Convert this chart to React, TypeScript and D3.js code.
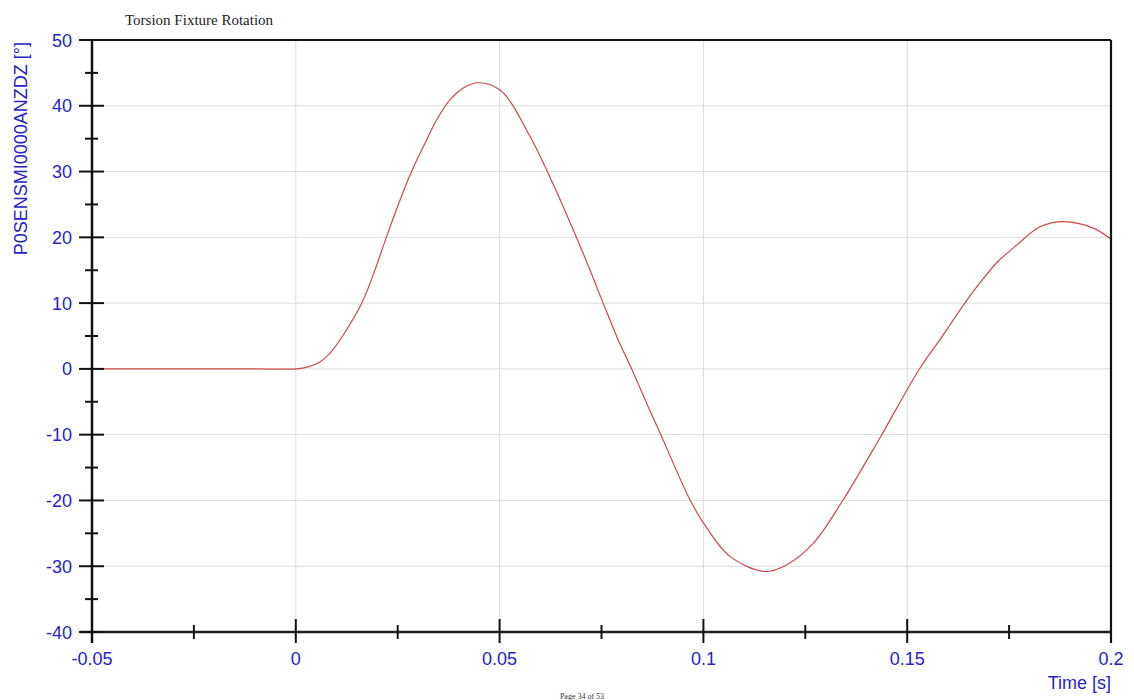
import React from "react";
import * as d3 from "d3";

const timeS = [-0.05, -0.03, -0.01, 0, 0.003, 0.006, 0.0084, 0.012, 0.0162, 0.0194, 0.0221, 0.0256, 0.0284, 0.0317, 0.0345, 0.0378, 0.0411, 0.0444, 0.0501, 0.0575, 0.0632, 0.0685, 0.0722, 0.0754, 0.0791, 0.0824, 0.0857, 0.0894, 0.0967, 0.1, 0.1065, 0.1151, 0.1204, 0.127, 0.1343, 0.1433, 0.1531, 0.158, 0.1638, 0.1675, 0.1719, 0.1768, 0.1826, 0.1883, 0.1957, 0.2];
const rotationDeg = [0, 0, 0, 0, 0.3, 1.1, 2.4, 5.5, 10, 15, 19.8, 25.7, 30, 34.3, 37.8, 40.9, 42.7, 43.5, 42.4, 35.3, 28.0, 20.5, 15, 10, 4.4, 0, -4.7, -9.8, -19.9, -23.4, -28.5, -30.8, -29.8, -26.5, -19.9, -10.5, 0.1, 4.4, 9.7, 12.8, 16.1, 18.8, 21.6, 22.4, 21.4, 19.7];
const xTicks = [-0.05, 0, 0.05, 0.1, 0.15, 0.2];
const xTickLabels = ["-0.05", "0", "0.05", "0.1", "0.15", "0.2"];
const xMinorTicks = [-0.025, 0.025, 0.075, 0.125, 0.175];
const yTicks = [50, 40, 30, 20, 10, 0, -10, -20, -30, -40];
const yMinorTicks = [45, 35, 25, 15, 5, -5, -15, -25, -35];

const W = 1134, H = 700;
const L = 92, R = 1111, T = 40, B = 632;
const blue = "#2424c8";
const sans = "Liberation Sans, Arial, sans-serif";

export default function App() {
  const x = d3.scaleLinear().domain([-0.05, 0.2]).range([L, R]);
  const y = d3.scaleLinear().domain([-40, 50]).range([B, T]);
  const pts = timeS.map((t, i) => [t, rotationDeg[i]] as [number, number]);
  const line = d3.line<[number, number]>().x(d => x(d[0])).y(d => y(d[1])).curve(d3.curveCatmullRom.alpha(0.5));

  return (
    <svg width={W} height={H} style={{ position: "absolute", left: 0, top: 0, background: "#fff" }}>
      <rect width={W} height={H} fill="#fff" />
      <text x={125} y={25} fontFamily="Liberation Serif, Times New Roman, serif" fontSize={15} fill="#222">Torsion Fixture Rotation</text>
      {/* grid */}
      {xTicks.map(t => <line key={"gx" + t} x1={x(t)} x2={x(t)} y1={T} y2={B} stroke="#dcdcdc" strokeWidth={1} />)}
      {yTicks.map(v => <line key={"gy" + v} x1={L} x2={R} y1={y(v)} y2={y(v)} stroke="#dcdcdc" strokeWidth={1} />)}
      {/* curve */}
      <path d={line(pts) || ""} fill="none" stroke="#d04848" strokeWidth={1.2} />
      {/* frame */}
      <line x1={L} x2={R} y1={T} y2={T} stroke="#111" strokeWidth={2} />
      <line x1={R} x2={R} y1={T} y2={B + 11} stroke="#111" strokeWidth={2.2} />
      <line x1={L} x2={L} y1={T} y2={B + 11} stroke="#111" strokeWidth={2.5} />
      <line x1={L - 12} x2={R} y1={B} y2={B} stroke="#222" strokeWidth={2.5} />
      {/* y ticks */}
      {yTicks.map(v => <line key={"ty" + v} x1={L - 13} x2={L + 12} y1={y(v)} y2={y(v)} stroke="#111" strokeWidth={2} />)}
      {yMinorTicks.map(v => <line key={"tym" + v} x1={L - 7} x2={L + 6} y1={y(v)} y2={y(v)} stroke="#111" strokeWidth={2} />)}
      {/* x ticks */}
      {xTicks.map(t => <line key={"tx" + t} x1={x(t)} x2={x(t)} y1={B - 13} y2={B + 11} stroke="#111" strokeWidth={2} />)}
      {xMinorTicks.map(t => <line key={"txm" + t} x1={x(t)} x2={x(t)} y1={B - 7} y2={B + 7} stroke="#111" strokeWidth={2} />)}
      {/* labels */}
      {yTicks.map(v => (
        <text key={"ly" + v} x={72} y={y(v) + 6.5} textAnchor="end" fontFamily={sans} fontSize={18} fill={blue}>{String(v)}</text>
      ))}
      {xTicks.map((t, i) => (
        <text key={"lx" + t} x={x(t)} y={665} textAnchor="middle" fontFamily={sans} fontSize={18} fill={blue}>{xTickLabels[i]}</text>
      ))}
      <text x={R} y={689} textAnchor="end" fontFamily={sans} fontSize={18} fill={blue}>Time [s]</text>
      <text transform={`translate(27,42) rotate(-90)`} textAnchor="end" fontFamily={sans} fontSize={18} fill={blue}>P0SENSMI0000ANZDZ [°]</text>
      <text x={582} y={699} textAnchor="middle" fontFamily="Liberation Serif, Times New Roman, serif" fontSize={8} fill="#333">Page 34 of 53</text>
    </svg>
  );
}
